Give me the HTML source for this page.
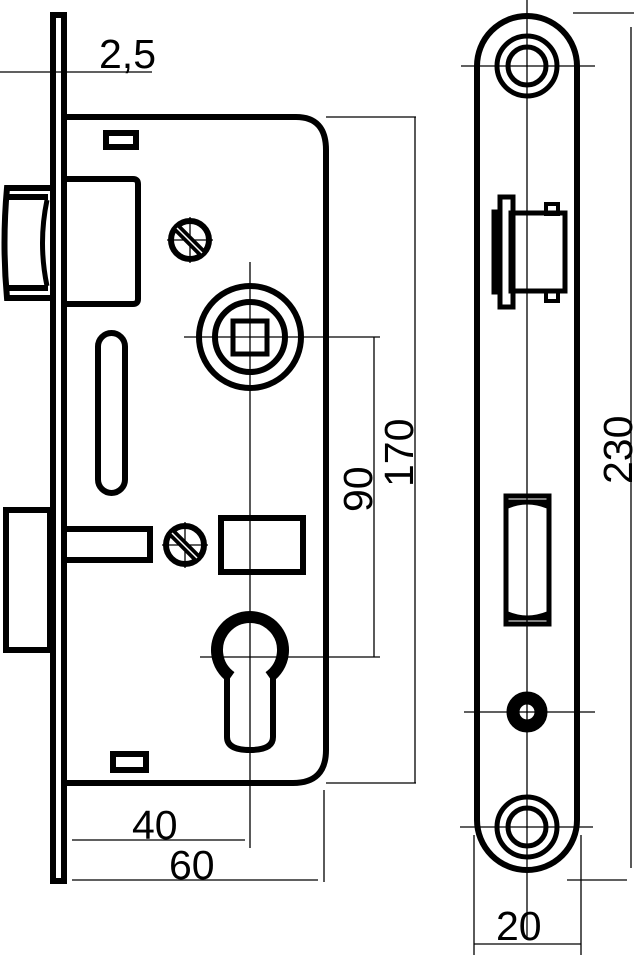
<!DOCTYPE html>
<html><head><meta charset="utf-8"><style>html,body{margin:0;padding:0;background:#fff}svg{display:block}</style></head>
<body>
<svg width="634" height="955" viewBox="0 0 634 955" xmlns="http://www.w3.org/2000/svg" font-family="Liberation Sans, sans-serif">
<g fill="none" stroke="#000">
<g stroke-width="1.3">
<line x1="0" y1="72" x2="152" y2="72"/>
<line x1="250" y1="262" x2="250" y2="848"/>
<line x1="184" y1="337" x2="380" y2="337"/>
<line x1="200" y1="657" x2="380" y2="657"/>
<line x1="374" y1="337" x2="374" y2="657"/>
<line x1="326" y1="117" x2="416" y2="117"/>
<line x1="326" y1="783" x2="416" y2="783"/>
<line x1="415" y1="117" x2="415" y2="783"/>
<line x1="72" y1="840" x2="245" y2="840"/>
<line x1="72" y1="880" x2="318" y2="880"/>
<line x1="324" y1="790" x2="324" y2="882"/>
<line x1="167" y1="240" x2="213" y2="240"/><line x1="190" y1="217" x2="190" y2="263"/>
<line x1="162" y1="545" x2="208" y2="545"/><line x1="185" y1="522" x2="185" y2="568"/>
<line x1="527" y1="0" x2="527" y2="940"/>
<line x1="461" y1="66" x2="595" y2="66"/>
<line x1="464" y1="712" x2="595" y2="712"/>
<line x1="460" y1="827" x2="593" y2="827"/>
<line x1="573" y1="13" x2="634" y2="13"/>
<line x1="567" y1="880" x2="627" y2="880"/>
<line x1="631" y1="27" x2="631" y2="868"/>
<line x1="474" y1="835" x2="474" y2="955"/>
<line x1="581" y1="835" x2="581" y2="955"/>
<line x1="474" y1="944" x2="581" y2="944"/>
</g>
<g stroke-width="6">
<rect x="53" y="15" width="11" height="866"/>
<path d="M67 117 H296 Q326 117 326 150 V750 Q326 783 293 783 H67"/>
<rect x="106" y="133" width="30" height="14"/>
<path d="M67 179 H133 Q138 179 138 184 V299 Q138 304 133 304 H67"/>
<path d="M50 188 H7 Q2 243 7 298 H50 M7 197 H48 M7 288 H48"/>
<path d="M47 200 Q38 243 47 286" stroke-width="5"/>
<circle cx="190" cy="240" r="19"/>
<circle cx="250" cy="337" r="51"/>
<circle cx="250" cy="337" r="35"/>
<rect x="233" y="321" width="34" height="33" stroke-width="5"/>
<rect x="98" y="333" width="27" height="160" rx="13.5"/>
<rect x="6" y="510" width="44" height="140"/>
<path d="M67 529 H150 V560 H67"/>
<circle cx="185" cy="545" r="19"/>
<rect x="221" y="518" width="82" height="54"/>
<path d="M231 677 A33 33 0 1 1 269 677" stroke-width="12"/>
<path d="M227 676 V737 Q227 750 250 750 Q273 750 273 737 V676"/>
<rect x="113" y="754" width="33" height="16"/>
<path d="M477 66 A50 50 0 0 1 577 66 V820 A50 50 0 0 1 477 820 Z"/>
<circle cx="527" cy="66" r="30" stroke-width="5"/>
<circle cx="527" cy="66" r="19" stroke-width="5"/>
<circle cx="527" cy="827" r="30" stroke-width="5"/>
<circle cx="527" cy="827" r="19" stroke-width="5"/>
<circle cx="527" cy="712" r="14" stroke-width="13"/>
<rect x="506" y="496" width="43" height="128" stroke-width="5"/>
<rect x="511" y="213" width="54" height="78" stroke-width="5"/>
<rect x="500" y="197" width="13" height="110" stroke-width="5"/>
<rect x="546" y="204" width="12" height="10" stroke-width="4"/>
<rect x="546" y="291" width="12" height="10" stroke-width="4"/>
</g>
<path d="M508 500 H547 V508 Q527 500 508 508 Z M508 620 H547 V612 Q527 620 508 612 Z" fill="#000"/>
<rect x="492" y="210" width="8" height="84" fill="#000"/>
</g>
<g stroke="#000" stroke-width="9"><line x1="177" y1="228" x2="202" y2="253"/><line x1="172" y1="533" x2="197" y2="558"/></g>
<g stroke="#fff" stroke-width="1.5"><line x1="177" y1="228" x2="202" y2="253"/><line x1="172" y1="533" x2="197" y2="558"/></g>
<g font-size="41" fill="#000">
<text x="99" y="68">2,5</text>
<text x="132" y="839">40</text>
<text x="169" y="879">60</text>
<text x="496" y="940">20</text>
<text transform="translate(372,512) rotate(-90)">90</text>
<text transform="translate(413,487) rotate(-90)">170</text>
<text transform="translate(632,484) rotate(-90)">230</text>
</g>
</svg>
</body></html>
